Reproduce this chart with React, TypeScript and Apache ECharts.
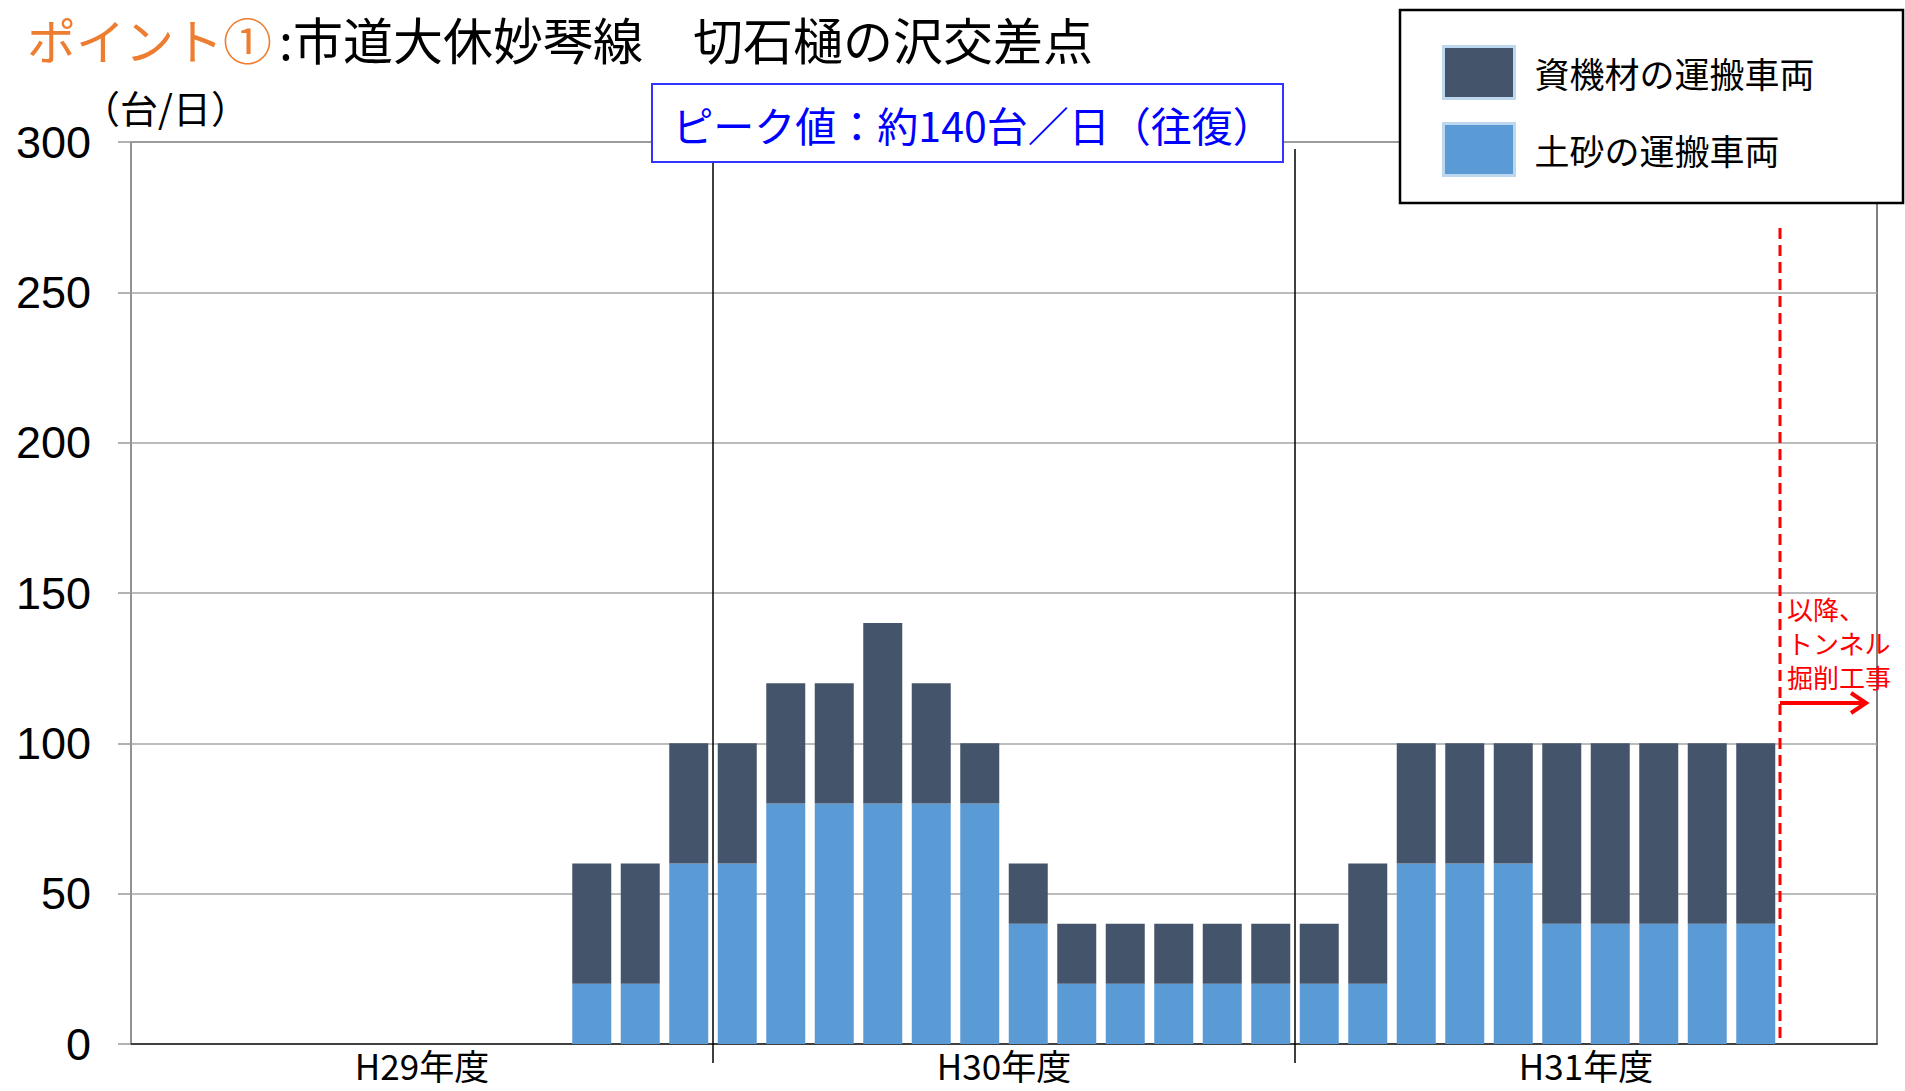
import React, { useEffect, useRef } from 'react';
import * as echarts from 'echarts';

const years = ['H29年度', 'H30年度', 'H31年度'];
const months = ['4月', '5月', '6月', '7月', '8月', '9月', '10月', '11月', '12月', '1月', '2月', '3月'];
const categories = years.flatMap((y) => months.map((m) => `${y}${m}`));

// 土砂の運搬車両 (bottom segment)
const soil = [
  0, 0, 0, 0, 0, 0, 0, 0, 0, 20, 20, 60,
  60, 80, 80, 80, 80, 80, 40, 20, 20, 20, 20, 20,
  20, 20, 60, 60, 60, 40, 40, 40, 40, 40, null, null,
];
// 資機材の運搬車両 (top segment)
const material = [
  0, 0, 0, 0, 0, 0, 0, 0, 0, 40, 40, 40,
  40, 40, 40, 60, 40, 20, 20, 20, 20, 20, 20, 20,
  20, 40, 40, 40, 40, 60, 60, 60, 60, 60, null, null,
];

const seriesNames = ['土砂の運搬車両', '資機材の運搬車両'];
const legendOrder = ['資機材の運搬車両', '土砂の運搬車両'];
const yMin = 0;
const yMax = 300;
const yInterval = 50;

const titleHead = 'ポイント①';
const titleRest = ':市道大休妙琴線　切石樋の沢交差点';
const unitLabel = '（台/日）';
const peakLabel = 'ピーク値：約140台／日（往復）';
const noteLabel = '以降、\nトンネル\n掘削工事';
const yearBoundaries = [12, 24];
const tunnelBoundary = 34;

const CJK = '"Noto Sans CJK JP", "Noto Sans", sans-serif';
const NUM = '"Liberation Sans", Arial, sans-serif';

export default function App() {
  const ref = useRef<HTMLDivElement>(null);

  useEffect(() => {
    document.body.style.margin = '0';
    document.body.style.overflow = 'hidden';
    const chart = echarts.init(ref.current!, null, { renderer: 'svg' });
    const option: any = {
      animation: false,
      backgroundColor: '#ffffff',
      legend: {
        data: legendOrder,
        left: 1442,
        top: 45,
        orient: 'vertical',
        itemWidth: 71,
        itemHeight: 52,
        itemGap: 22,
        padding: 0,
        z: 20,
        icon: 'rect',
        itemStyle: { borderColor: '#BDD7EE', borderWidth: 3 },
        textStyle: { fontSize: 35, color: '#000', fontFamily: CJK, padding: [0, 0, 10, 15] },
      },
      grid: {
        left: 131,
        right: 28,
        top: 142,
        bottom: 47,
        show: true,
        borderColor: '#000000',
        borderWidth: 1,
        backgroundColor: 'transparent',
      },
      xAxis: [
        {
          type: 'category',
          data: categories,
          position: 'bottom',
          axisLine: { show: true, lineStyle: { color: '#404040', width: 2 } },
          axisTick: { show: false },
          axisLabel: { show: false },
          splitLine: { show: false },
        },
        {
          type: 'category',
          data: years,
          position: 'bottom',
          axisLine: { show: false },
          axisTick: { show: false },
          axisLabel: { show: true, margin: 3, fontSize: 35, color: '#000', fontFamily: CJK },
          splitLine: { show: false },
        },
      ],
      yAxis: {
        type: 'value',
        min: yMin,
        max: yMax,
        interval: yInterval,
        axisLine: { show: true, lineStyle: { color: '#999999', width: 1.5 } },
        axisTick: { show: true, length: 13, lineStyle: { color: '#999999', width: 1.5 } },
        axisLabel: { margin: 40, fontSize: 45, color: '#000', fontFamily: NUM },
        splitLine: { show: true, lineStyle: { color: '#A6A6A6', width: 1.5 } },
      },
      series: [
        {
          name: seriesNames[0],
          type: 'bar',
          stack: 'total',
          xAxisIndex: 0,
          barWidth: 39,
          data: soil,
          itemStyle: { color: '#5B9BD5' },
        },
        {
          name: seriesNames[1],
          type: 'bar',
          stack: 'total',
          xAxisIndex: 0,
          barWidth: 39,
          data: material,
          itemStyle: { color: '#44546A' },
        },
      ],
    };
    chart.setOption(option);

    const boundaryX = (i: number) => {
      const a = chart.convertToPixel({ xAxisIndex: 0 }, categories[i - 1]) as number;
      const b = chart.convertToPixel({ xAxisIndex: 0 }, categories[i]) as number;
      return (a + b) / 2;
    };
    const y0 = chart.convertToPixel({ yAxisIndex: 0 }, 0) as number;
    const yTop = chart.convertToPixel({ yAxisIndex: 0 }, yMax) as number;
    const xRed = boundaryX(tunnelBoundary);
    const arrowY = 703;
    const arrowTip = xRed + 86;

    const graphic: any[] = [
      {
        type: 'text',
        z: 6,
        x: 27,
        y: 38,
        style: { text: titleHead, fill: '#ED7D31', fontSize: 49, fontFamily: CJK, verticalAlign: 'middle' },
      },
      {
        type: 'text',
        z: 6,
        x: 279,
        y: 38,
        style: { text: titleRest, fill: '#000000', fontSize: 50, fontFamily: CJK, verticalAlign: 'middle' },
      },
    ];
    yearBoundaries.forEach((bi) => {
      const x = boundaryX(bi);
      graphic.push({
        type: 'line',
        z: 5,
        shape: { x1: x, y1: yTop + 7, x2: x, y2: y0 + 19 },
        style: { stroke: '#000', lineWidth: 1.5 },
      });
    });
    graphic.push(
      {
        type: 'line',
        z: 6,
        shape: { x1: xRed, y1: 228, x2: xRed, y2: y0 },
        style: { stroke: '#FF0000', lineWidth: 3, lineDash: [11, 6] },
      },
      {
        type: 'line',
        z: 6,
        shape: { x1: xRed, y1: arrowY, x2: arrowTip, y2: arrowY },
        style: { stroke: '#FF0000', lineWidth: 4 },
      },
      {
        type: 'polyline',
        z: 6,
        shape: { points: [[arrowTip - 15, arrowY - 10], [arrowTip, arrowY], [arrowTip - 15, arrowY + 10]] },
        style: { stroke: '#FF0000', lineWidth: 4, fill: 'none' },
      },
      {
        type: 'text',
        z: 6,
        x: xRed + 7,
        y: 591,
        style: { text: noteLabel, fill: '#FF0000', fontSize: 26, lineHeight: 34, fontFamily: CJK },
      },
      {
        type: 'rect',
        z: 10,
        shape: { x: 652, y: 84, width: 631, height: 78 },
        style: { fill: '#ffffff', stroke: '#3333FF', lineWidth: 2 },
      },
      {
        type: 'text',
        z: 11,
        x: 973,
        y: 124,
        style: {
          text: peakLabel,
          fill: '#0000FF',
          fontSize: 41,
          fontFamily: CJK,
          align: 'center',
          verticalAlign: 'middle',
        },
      },
      {
        type: 'rect',
        z: 10,
        shape: { x: 1400, y: 10, width: 503, height: 193 },
        style: { fill: '#ffffff', stroke: '#000000', lineWidth: 2.5 },
      },
      {
        type: 'text',
        z: 6,
        x: 82,
        y: 106,
        style: { text: unitLabel, fill: '#000', fontSize: 38, fontFamily: CJK, verticalAlign: 'middle' },
      }
    );
    chart.setOption({ graphic });

    return () => chart.dispose();
  }, []);

  return <div ref={ref} style={{ width: 1905, height: 1091 }} />;
}
